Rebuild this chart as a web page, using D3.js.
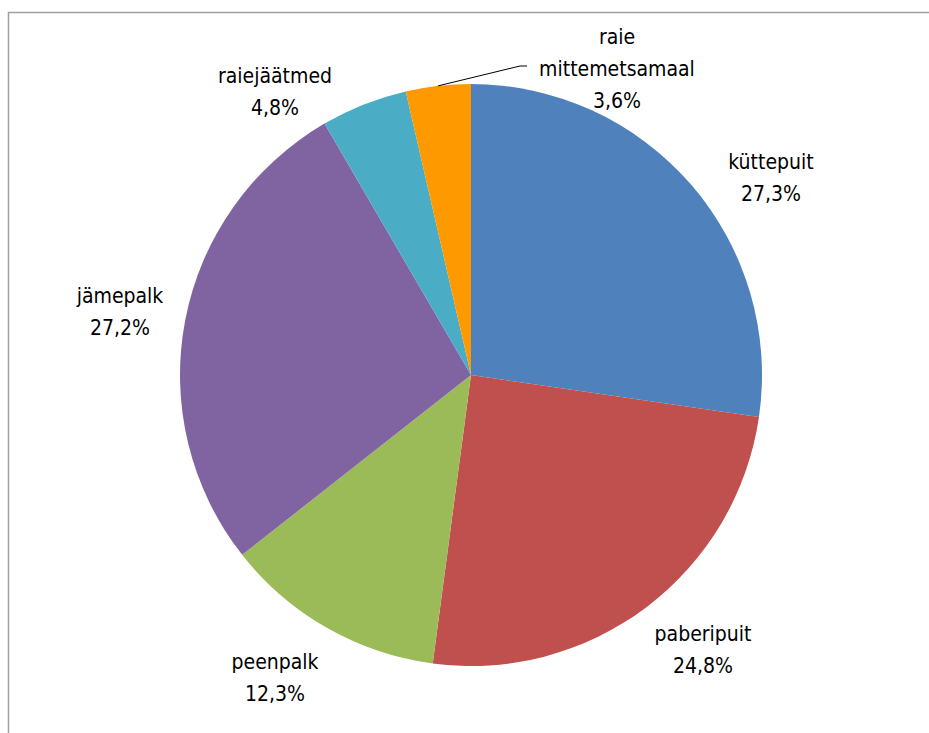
<!DOCTYPE html>
<html><head><meta charset="utf-8">
<script src="https://cdn.jsdelivr.net/npm/d3@7"></script>
<style>body{margin:0;background:#fff}</style>
</head><body>
<svg id="chart" width="929" height="733"></svg>
<script>
// data
const categories = ['küttepuit', 'paberipuit', 'peenpalk', 'jämepalk', 'raiejäätmed', 'raie mittemetsamaal'];
const shares = [27.3, 24.8, 12.3, 27.2, 4.8, 3.6];
const colors = ['#4F81BD', '#C0504D', '#9BBB59', '#8064A2', '#4BACC6', '#FF9900'];
// label layout: anchor point of label block and line split
const labelPos = [[771, 162], [703, 634], [275, 662], [120, 296], [275, 76], [617, 37]];
const labelLines = [['küttepuit'], ['paberipuit'], ['peenpalk'], ['jämepalk'], ['raiejäätmed'], ['raie', 'mittemetsamaal']];

const svg = d3.select('#chart');
svg.append('rect').attr('x', 8.5).attr('y', 12.5).attr('width', 940).attr('height', 740)
	.attr('fill', 'none').attr('stroke', '#a0a0a0').attr('stroke-width', 1.5);

const cx = 471, cy = 375, r = 291;
const pie = d3.pie().sort(null).value(d => d);
const arc = d3.arc().innerRadius(0).outerRadius(r);
const g = svg.append('g').attr('transform', `translate(${cx},${cy})`);

const arcs = pie(shares);
g.selectAll('path').data(arcs).enter().append('path')
	.attr('d', arc).attr('fill', (d, i) => colors[i]);

// leader line for the small slice
const small = arcs[5];
const mid = (small.startAngle + small.endAngle) / 2;
const p0 = [cx + Math.sin(mid) * r, cy - Math.cos(mid) * r];
svg.append('polyline')
	.attr('points', `${p0[0]},${p0[1]} ${labelPos[5][0] - 97},${labelPos[5][1] + 29} ${labelPos[5][0] - 90},${labelPos[5][1] + 29}`)
	.attr('fill', 'none').attr('stroke', '#000').attr('stroke-width', 1);

const fmt = v => d3.format('.1f')(v).replace('.', ',') + '%';
categories.forEach((c, i) => {
	const t = svg.append('text')
		.attr('x', labelPos[i][0]).attr('y', labelPos[i][1])
		.attr('text-anchor', 'middle')
		.style('font-family', '"Liberation Sans Narrow", "DejaVu Sans Condensed", sans-serif')
		.style('font-size', '21px').style('fill', '#000');
	const lines = labelLines[i].concat([fmt(shares[i])]);
	lines.forEach((l, k) => {
		t.append('tspan').attr('x', labelPos[i][0]).attr('dy', k === 0 ? '0.35em' : 32).text(l);
	});
});
</script>
</body></html>
